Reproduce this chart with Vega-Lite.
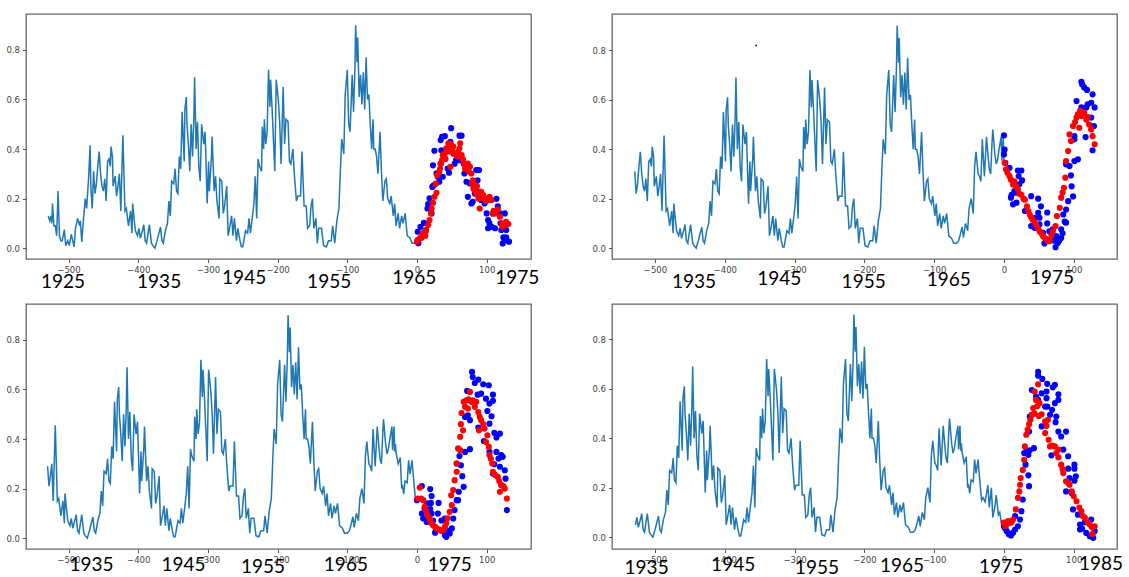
{
"$schema":"https://vega.github.io/schema/vega-lite/v6.json",
"background":"white",
"padding":{"left":5,"top":13,"right":0,"bottom":0},
"bounds":"flush",
"columns":2,
"spacing":{"row":45,"column":81},
"config":{"view":{"stroke":"#666666","strokeWidth":1.3},
"axis":{"grid":false,"domain":false,"title":null,"tickSize":3.5,"tickColor":"#555555","labelColor":"#444444","labelFont":"DejaVu Sans","labelFontSize":8.5,"labelPadding":3,"labelOverlap":false,"labelFlush":false},
"text":{"font":"Lato","fontSize":19,"color":"black"}},
"datasets":{
"series":[
{"a":-529,"y":0.13},{"a":-527,"y":0.11},{"a":-525,"y":0.13},{"a":-524,"y":0.1},{"a":-523,"y":0.18},{"a":-521,"y":0.09},{"a":-519,"y":0.09},{"a":-517,"y":0.05},{"a":-515,"y":0.23},{"a":-513,"y":0.05},{"a":-511,"y":0.03},{"a":-509,"y":0.03},{"a":-506,"y":0.075},{"a":-504,"y":0.01},{"a":-501,"y":0.03},{"a":-499,"y":0.01},{"a":-496,"y":0.055},{"a":-494,"y":0.03},{"a":-492,"y":0.005},{"a":-490,"y":0.08},{"a":-487,"y":0.12},{"a":-484,"y":0.09},{"a":-483,"y":0.11},{"a":-481,"y":0.025},{"a":-479,"y":0.1},{"a":-476,"y":0.2},{"a":-474,"y":0.16},{"a":-471,"y":0.29},{"a":-469,"y":0.415},{"a":-468,"y":0.25},{"a":-466,"y":0.16},
{"a":-464,"b":-529,"y":0.31},{"a":-462,"b":-527,"y":0.22},{"a":-460,"b":-525,"y":0.26},{"a":-458,"b":-523,"y":0.33},{"a":-456,"b":-521,"y":0.39},{"a":-454,"b":-519,"y":0.3},{"a":-452,"b":-517,"y":0.25},{"a":-450,"b":-515,"y":0.23},{"a":-448,"b":-513,"y":0.28},{"a":-446,"b":-511,"y":0.19},{"a":-444,"b":-509,"y":0.35},{"a":-442,"b":-507,"y":0.36},{"a":-440,"b":-505,"y":0.33},{"a":-439,"b":-504,"y":0.41},{"a":-437,"b":-502,"y":0.37},{"a":-436,"b":-501,"y":0.25},
{"a":-433,"b":-498,"c":-530,"y":0.29},{"a":-431,"b":-496,"c":-528,"y":0.21},{"a":-429,"b":-494,"c":-526,"y":0.25},{"a":-427,"b":-492,"c":-524,"y":0.3},{"a":-425,"b":-490,"c":-522,"y":0.15},{"a":-422,"b":-487,"c":-519,"y":0.455},{"a":-419,"b":-484,"c":-516,"y":0.15},{"a":-417,"b":-482,"c":-514,"y":0.16},{"a":-414,"b":-479,"c":-511,"y":0.09},{"a":-412,"b":-477,"c":-509,"y":0.13},{"a":-411,"b":-476,"c":-508,"y":0.15},{"a":-409,"b":-474,"c":-506,"y":0.06},{"a":-408,"b":-473,"c":-505,"y":0.18},{"a":-406,"b":-471,"c":-503,"y":0.12},{"a":-404,"b":-469,"c":-501,"y":0.07},
{"a":-401,"b":-466,"c":-498,"d":-528,"y":0.05},{"a":-399,"b":-464,"c":-496,"d":-526,"y":0.08},{"a":-397,"b":-462,"c":-494,"d":-524,"y":0.04},{"a":-394,"b":-459,"c":-491,"d":-521,"y":0.07},{"a":-392,"b":-457,"c":-489,"d":-519,"y":0.095},{"a":-390,"b":-455,"c":-487,"d":-517,"y":0.03},{"a":-388,"b":-453,"c":-485,"d":-515,"y":0.02},{"a":-384,"b":-449,"c":-481,"d":-511,"y":0.095},{"a":-381,"b":-446,"c":-478,"d":-508,"y":0.02},{"a":-379,"b":-444,"c":-476,"d":-506,"y":0.01},{"a":-376,"b":-441,"c":-473,"d":-503,"y":0.0},{"a":-373,"b":-438,"c":-470,"d":-500,"y":0.03},{"a":-368,"b":-433,"c":-465,"d":-495,"y":0.085},{"a":-366,"b":-431,"c":-463,"d":-493,"y":0.03},{"a":-364,"b":-429,"c":-461,"d":-491,"y":0.02},{"a":-361,"b":-426,"c":-458,"d":-488,"y":0.07},{"a":-358,"b":-423,"c":-455,"d":-485,"y":0.1},{"a":-356,"b":-421,"c":-453,"d":-483,"y":0.19},{"a":-354,"b":-419,"c":-451,"d":-481,"y":0.13},{"a":-352,"b":-417,"c":-449,"d":-479,"y":0.27},{"a":-349,"b":-414,"c":-446,"d":-476,"y":0.26},{"a":-347,"b":-412,"c":-444,"d":-474,"y":0.32},{"a":-345,"b":-410,"c":-442,"d":-472,"y":0.23},{"a":-343,"b":-408,"c":-440,"d":-470,"y":0.22},{"a":-341,"b":-406,"c":-438,"d":-468,"y":0.37},{"a":-339,"b":-404,"c":-436,"d":-466,"y":0.32},{"a":-337,"b":-402,"c":-434,"d":-464,"y":0.55},{"a":-334,"b":-399,"c":-431,"d":-461,"y":0.35},{"a":-333,"b":-398,"c":-430,"d":-460,"y":0.56},{"a":-331,"b":-396,"c":-428,"d":-458,"y":0.61},{"a":-330,"b":-395,"c":-427,"d":-457,"y":0.5},{"a":-328,"b":-393,"c":-425,"d":-455,"y":0.42},{"a":-326,"b":-391,"c":-423,"d":-453,"y":0.31},{"a":-324,"b":-389,"c":-421,"d":-451,"y":0.5},{"a":-322,"b":-387,"c":-419,"d":-449,"y":0.37},{"a":-320,"b":-385,"c":-417,"d":-447,"y":0.54},{"a":-319,"b":-384,"c":-416,"d":-446,"y":0.69},{"a":-317,"b":-382,"c":-414,"d":-444,"y":0.4},{"a":-315,"b":-380,"c":-412,"d":-442,"y":0.51},{"a":-313,"b":-378,"c":-410,"d":-440,"y":0.33},{"a":-311,"b":-376,"c":-408,"d":-438,"y":0.27},{"a":-309,"b":-374,"c":-406,"d":-436,"y":0.5},{"a":-306,"b":-371,"c":-403,"d":-433,"y":0.42},{"a":-304,"b":-369,"c":-401,"d":-431,"y":0.47},{"a":-301,"b":-366,"c":-398,"d":-428,"y":0.18},{"a":-299,"b":-364,"c":-396,"d":-426,"y":0.35},{"a":-298,"b":-363,"c":-395,"d":-425,"y":0.23},{"a":-295,"b":-360,"c":-392,"d":-422,"y":0.36},{"a":-294,"b":-359,"c":-391,"d":-421,"y":0.45},{"a":-291,"b":-356,"c":-388,"d":-418,"y":0.23},{"a":-289,"b":-354,"c":-386,"d":-416,"y":0.29},{"a":-287,"b":-352,"c":-384,"d":-414,"y":0.19},{"a":-284,"b":-349,"c":-381,"d":-411,"y":0.12},{"a":-283,"b":-348,"c":-380,"d":-410,"y":0.28},{"a":-280,"b":-345,"c":-377,"d":-407,"y":0.27},{"a":-278,"b":-343,"c":-375,"d":-405,"y":0.14},{"a":-276,"b":-341,"c":-373,"d":-403,"y":0.17},{"a":-273,"b":-338,"c":-370,"d":-400,"y":0.25},{"a":-271,"b":-336,"c":-368,"d":-398,"y":0.05},{"a":-269,"b":-334,"c":-366,"d":-396,"y":0.08},{"a":-266,"b":-331,"c":-363,"d":-393,"y":0.13},{"a":-264,"b":-329,"c":-361,"d":-391,"y":0.05},{"a":-262,"b":-327,"c":-359,"d":-389,"y":0.12},{"a":-259,"b":-324,"c":-356,"d":-386,"y":0.03},{"a":-257,"b":-322,"c":-354,"d":-384,"y":0.08},{"a":-254,"b":-319,"c":-351,"d":-381,"y":0.03},{"a":-252,"b":-317,"c":-349,"d":-379,"y":0.005},{"a":-250,"b":-315,"c":-347,"d":-377,"y":0.005},{"a":-246,"b":-311,"c":-343,"d":-373,"y":0.07},{"a":-243,"b":-308,"c":-340,"d":-370,"y":0.06},{"a":-241,"b":-306,"c":-338,"d":-368,"y":0.12},{"a":-239,"b":-304,"c":-336,"d":-366,"y":0.06},{"a":-236,"b":-301,"c":-333,"d":-363,"y":0.13},{"a":-234,"b":-299,"c":-331,"d":-361,"y":0.18},{"a":-232,"b":-297,"c":-329,"d":-359,"y":0.29},{"a":-230,"b":-295,"c":-327,"d":-357,"y":0.12},{"a":-228,"b":-293,"c":-325,"d":-355,"y":0.36},{"a":-226,"b":-291,"c":-323,"d":-353,"y":0.33},{"a":-223,"b":-288,"c":-320,"d":-350,"y":0.31},{"a":-222,"b":-287,"c":-319,"d":-349,"y":0.49},{"a":-220,"b":-285,"c":-317,"d":-347,"y":0.4},{"a":-219,"b":-284,"c":-316,"d":-346,"y":0.52},{"a":-217,"b":-282,"c":-314,"d":-344,"y":0.42},{"a":-215,"b":-280,"c":-312,"d":-342,"y":0.47},{"a":-213,"b":-278,"c":-310,"d":-340,"y":0.72},{"a":-211,"b":-276,"c":-308,"d":-338,"y":0.57},{"a":-210,"b":-275,"c":-307,"d":-337,"y":0.68},{"a":-208,"b":-273,"c":-305,"d":-335,"y":0.57},{"a":-204,"b":-269,"c":-301,"d":-331,"y":0.31},{"a":-202,"b":-267,"c":-299,"d":-329,"y":0.68},{"a":-199,"b":-264,"c":-296,"d":-326,"y":0.6},{"a":-197,"b":-262,"c":-294,"d":-324,"y":0.51},{"a":-195,"b":-260,"c":-292,"d":-322,"y":0.34},{"a":-192,"b":-257,"c":-289,"d":-319,"y":0.65},{"a":-190,"b":-255,"c":-287,"d":-317,"y":0.42},{"a":-188,"b":-253,"c":-285,"d":-315,"y":0.52},{"a":-185,"b":-250,"c":-282,"d":-312,"y":0.51},{"a":-183,"b":-248,"c":-280,"d":-310,"y":0.35},{"a":-181,"b":-246,"c":-278,"d":-308,"y":0.34},{"a":-178,"b":-243,"c":-275,"d":-305,"y":0.4},{"a":-176,"b":-241,"c":-273,"d":-303,"y":0.3},{"a":-173,"b":-238,"c":-270,"d":-300,"y":0.19},{"a":-171,"b":-236,"c":-268,"d":-298,"y":0.21},{"a":-167,"b":-232,"c":-264,"d":-294,"y":0.21},{"a":-165,"b":-230,"c":-262,"d":-292,"y":0.39},{"a":-162,"b":-227,"c":-259,"d":-289,"y":0.17},{"a":-159,"b":-224,"c":-256,"d":-286,"y":0.17},{"a":-157,"b":-222,"c":-254,"d":-284,"y":0.08},{"a":-154,"b":-219,"c":-251,"d":-281,"y":0.09},{"a":-152,"b":-217,"c":-249,"d":-279,"y":0.17},{"a":-150,"b":-215,"c":-247,"d":-277,"y":0.2},{"a":-148,"b":-213,"c":-245,"d":-275,"y":0.08},{"a":-145,"b":-210,"c":-242,"d":-272,"y":0.12},{"a":-143,"b":-208,"c":-240,"d":-270,"y":0.02},{"a":-141,"b":-206,"c":-238,"d":-268,"y":0.08},{"a":-137,"b":-202,"c":-234,"d":-264,"y":0.08},{"a":-134,"b":-199,"c":-231,"d":-261,"y":0.01},{"a":-130,"b":-195,"c":-227,"d":-257,"y":0.005},{"a":-127,"b":-192,"c":-224,"d":-254,"y":0.03},{"a":-123,"b":-188,"c":-220,"d":-250,"y":0.03},{"a":-121,"b":-186,"c":-218,"d":-248,"y":0.09},{"a":-118,"b":-183,"c":-215,"d":-245,"y":0.02},{"a":-115,"b":-180,"c":-212,"d":-242,"y":0.11},{"a":-112,"b":-177,"c":-209,"d":-239,"y":0.16},{"a":-110,"b":-175,"c":-207,"d":-237,"y":0.31},{"a":-108,"b":-173,"c":-205,"d":-235,"y":0.44},{"a":-105,"b":-170,"c":-202,"d":-232,"y":0.38},{"a":-103,"b":-168,"c":-200,"d":-230,"y":0.62},{"a":-100,"b":-165,"c":-197,"d":-227,"y":0.72},{"a":-98,"b":-163,"c":-195,"d":-225,"y":0.5},{"a":-96,"b":-161,"c":-193,"d":-223,"y":0.47},{"a":-93,"b":-158,"c":-190,"d":-220,"y":0.7},{"a":-91,"b":-156,"c":-188,"d":-218,"y":0.55},{"a":-89,"b":-154,"c":-186,"d":-216,"y":0.73},{"a":-88,"b":-153,"c":-185,"d":-215,"y":0.9},{"a":-86,"b":-151,"c":-183,"d":-213,"y":0.75},{"a":-85,"b":-150,"c":-182,"d":-212,"y":0.85},{"a":-83,"b":-148,"c":-180,"d":-210,"y":0.61},{"a":-81,"b":-146,"c":-178,"d":-208,"y":0.7},{"a":-79,"b":-144,"c":-176,"d":-206,"y":0.58},{"a":-77,"b":-142,"c":-174,"d":-204,"y":0.71},{"a":-75,"b":-140,"c":-172,"d":-202,"y":0.56},{"a":-73,"b":-138,"c":-170,"d":-200,"y":0.77},{"a":-71,"b":-136,"c":-168,"d":-198,"y":0.6},{"a":-69,"b":-134,"c":-166,"d":-196,"y":0.62},{"a":-67,"b":-132,"c":-164,"d":-194,"y":0.5},{"a":-65,"b":-130,"c":-162,"d":-192,"y":0.4},{"a":-63,"b":-128,"c":-160,"d":-190,"y":0.52},{"a":-62,"b":-127,"c":-159,"d":-189,"y":0.4},{"a":-60,"b":-125,"c":-157,"d":-187,"y":0.4},{"a":-58,"b":-123,"c":-155,"d":-185,"y":0.37},{"a":-56,"b":-121,"c":-153,"d":-183,"y":0.3},{"a":-53,"b":-118,"c":-150,"d":-180,"y":0.47},{"a":-51,"b":-116,"c":-148,"d":-178,"y":0.31},{"a":-49,"b":-114,"c":-146,"d":-176,"y":0.19},{"a":-46,"b":-111,"c":-143,"d":-173,"y":0.27},{"a":-44,"b":-109,"c":-141,"d":-171,"y":0.28},{"a":-42,"b":-107,"c":-139,"d":-169,"y":0.2},{"a":-39,"b":-104,"c":-136,"d":-166,"y":0.18},{"a":-37,"b":-102,"c":-134,"d":-164,"y":0.21},{"a":-34,"b":-99,"c":-131,"d":-161,"y":0.13},{"a":-32,"b":-97,"c":-129,"d":-159,"y":0.18},{"a":-30,"b":-95,"c":-127,"d":-157,"y":0.09},{"a":-27,"b":-92,"c":-124,"d":-154,"y":0.14},{"a":-25,"b":-90,"c":-122,"d":-152,"y":0.08},{"a":-22,"b":-87,"c":-119,"d":-149,"y":0.13},{"a":-20,"b":-85,"c":-117,"d":-147,"y":0.1},{"a":-17,"b":-82,"c":-114,"d":-144,"y":0.14},{"a":-14,"b":-79,"c":-111,"d":-141,"y":0.05},{"a":-10,"b":-75,"c":-107,"d":-137,"y":0.04},{"a":-7,"b":-72,"c":-104,"d":-134,"y":0.02},{"a":-3,"b":-68,"c":-100,"d":-130,"y":0.02},{"a":0,"b":-65,"c":-97,"d":-127,"y":0.03},
{"b":-63,"c":-95,"d":-125,"y":0.05},{"b":-60,"c":-92,"d":-122,"y":0.086},{"b":-58,"c":-90,"d":-120,"y":0.043},{"b":-55,"c":-87,"d":-117,"y":0.1},{"b":-52,"c":-84,"d":-114,"y":0.07},{"b":-50,"c":-82,"d":-112,"y":0.16},{"b":-47,"c":-79,"d":-109,"y":0.2},{"b":-44,"c":-76,"d":-106,"y":0.14},{"b":-42,"c":-74,"d":-104,"y":0.33},{"b":-40,"c":-72,"d":-102,"y":0.39},{"b":-37,"c":-69,"d":-99,"y":0.3},{"b":-35,"c":-67,"d":-97,"y":0.29},{"b":-33,"c":-65,"d":-95,"y":0.27},{"b":-31,"c":-63,"d":-93,"y":0.44},{"b":-29,"c":-61,"d":-91,"y":0.34},{"b":-28,"c":-60,"d":-90,"y":0.29},{"b":-25,"c":-57,"d":-87,"y":0.45},{"b":-23,"c":-55,"d":-85,"y":0.38},{"b":-21,"c":-53,"d":-83,"y":0.32},{"b":-19,"c":-51,"d":-81,"y":0.3},{"b":-17,"c":-49,"d":-79,"y":0.43},{"b":-16,"c":-48,"d":-78,"y":0.48},{"b":-13,"c":-45,"d":-75,"y":0.38},{"b":-11,"c":-43,"d":-73,"y":0.34},{"b":-9,"c":-41,"d":-71,"y":0.36},{"b":-7,"c":-39,"d":-69,"y":0.4},{"b":-4,"c":-36,"d":-66,"y":0.45},{"b":-3,"c":-35,"d":-65,"y":0.355},{"b":-1,"c":-33,"d":-63,"y":0.45},{"b":0,"c":-32,"d":-62,"y":0.35},
{"c":-31,"d":-61,"y":0.38},{"c":-30,"d":-60,"y":0.345},{"c":-27,"d":-57,"y":0.3},{"c":-24,"d":-54,"y":0.325},{"c":-22,"d":-52,"y":0.2},{"c":-21,"d":-51,"y":0.216},{"c":-19,"d":-49,"y":0.177},{"c":-17,"d":-47,"y":0.231},{"c":-14,"d":-44,"y":0.224},{"c":-12,"d":-42,"y":0.314},{"c":-10,"d":-40,"y":0.258},{"c":-7,"d":-37,"y":0.314},{"c":-6,"d":-36,"y":0.274},{"c":-2,"d":-32,"y":0.15},{"c":0,"d":-30,"y":0.16},
{"d":-27,"y":0.143},{"d":-23,"y":0.21},{"d":-21,"y":0.12},{"d":-18,"y":0.2},{"d":-16,"y":0.08},{"d":-13,"y":0.123},{"d":-11,"y":0.17},{"d":-8,"y":0.09},{"d":-6,"y":0.1},{"d":-4,"y":0.06},{"d":-2,"y":0.03},{"d":0,"y":0.06}
],
"blue1":[{"x":1,"y":0.066},{"x":1,"y":0.03},{"x":2,"y":0.02},{"x":5,"y":0.086},{"x":7,"y":0.043},{"x":10,"y":0.102},{"x":11,"y":0.066},{"x":13,"y":0.073},{"x":15,"y":0.16},{"x":16,"y":0.178},{"x":18,"y":0.201},{"x":21,"y":0.14},{"x":22,"y":0.247},{"x":24,"y":0.253},{"x":25,"y":0.393},{"x":23,"y":0.334},{"x":28,"y":0.302},{"x":30,"y":0.288},{"x":32,"y":0.268},{"x":34,"y":0.341},{"x":35,"y":0.395},{"x":34,"y":0.436},{"x":36,"y":0.449},{"x":40,"y":0.452},{"x":37,"y":0.288},{"x":40,"y":0.387},{"x":44,"y":0.321},{"x":46,"y":0.304},{"x":49,"y":0.484},{"x":48,"y":0.429},{"x":52,"y":0.382},{"x":54,"y":0.341},{"x":56,"y":0.355},{"x":61,"y":0.454},{"x":64,"y":0.454},{"x":61,"y":0.355},{"x":67,"y":0.341},{"x":68,"y":0.301},{"x":71,"y":0.268},{"x":73,"y":0.207},{"x":76,"y":0.261},{"x":78,"y":0.18},{"x":80,"y":0.187},{"x":83,"y":0.22},{"x":85,"y":0.315},{"x":89,"y":0.315},{"x":87,"y":0.274},{"x":90,"y":0.227},{"x":92,"y":0.194},{"x":97,"y":0.18},{"x":100,"y":0.14},{"x":102,"y":0.113},{"x":104,"y":0.1},{"x":102,"y":0.08},{"x":107,"y":0.086},{"x":109,"y":0.14},{"x":114,"y":0.199},{"x":116,"y":0.169},{"x":119,"y":0.14},{"x":120,"y":0.1},{"x":121,"y":0.073},{"x":124,"y":0.043},{"x":126,"y":0.14},{"x":128,"y":0.073},{"x":126,"y":0.032},{"x":128,"y":0.043},{"x":132,"y":0.026},{"x":123,"y":0.019},{"x":112,"y":0.08}],
"red1":[{"x":0,"y":0.026},{"x":1,"y":0.032},{"x":4,"y":0.039},{"x":6,"y":0.043},{"x":9,"y":0.052},{"x":11,"y":0.059},{"x":13,"y":0.07},{"x":16,"y":0.093},{"x":18,"y":0.113},{"x":20,"y":0.14},{"x":21,"y":0.16},{"x":23,"y":0.183},{"x":25,"y":0.207},{"x":28,"y":0.223},{"x":29,"y":0.294},{"x":32,"y":0.308},{"x":34,"y":0.341},{"x":36,"y":0.355},{"x":37,"y":0.375},{"x":40,"y":0.382},{"x":42,"y":0.403},{"x":45,"y":0.423},{"x":47,"y":0.42},{"x":49,"y":0.417},{"x":52,"y":0.41},{"x":54,"y":0.38},{"x":56,"y":0.382},{"x":59,"y":0.389},{"x":61,"y":0.403},{"x":62,"y":0.423},{"x":64,"y":0.375},{"x":66,"y":0.358},{"x":68,"y":0.341},{"x":71,"y":0.335},{"x":73,"y":0.341},{"x":76,"y":0.328},{"x":78,"y":0.301},{"x":80,"y":0.274},{"x":83,"y":0.254},{"x":85,"y":0.247},{"x":87,"y":0.22},{"x":90,"y":0.207},{"x":92,"y":0.227},{"x":95,"y":0.214},{"x":97,"y":0.2},{"x":100,"y":0.196},{"x":102,"y":0.194},{"x":104,"y":0.207},{"x":107,"y":0.194},{"x":109,"y":0.14},{"x":112,"y":0.14},{"x":114,"y":0.151},{"x":116,"y":0.156},{"x":119,"y":0.127},{"x":123,"y":0.086},{"x":126,"y":0.093},{"x":128,"y":0.106},{"x":131,"y":0.097},{"x":90,"y":0.16},{"x":48,"y":0.328},{"x":8,"y":0.06},{"x":12,"y":0.05},{"x":27,"y":0.26},{"x":33,"y":0.32},{"x":41,"y":0.36},{"x":44,"y":0.4},{"x":46,"y":0.39},{"x":51,"y":0.39},{"x":58,"y":0.37},{"x":69,"y":0.32},{"x":74,"y":0.31},{"x":79,"y":0.26},{"x":81,"y":0.24},{"x":84,"y":0.225},{"x":86,"y":0.25},{"x":88,"y":0.2},{"x":93,"y":0.205},{"x":99,"y":0.19},{"x":110,"y":0.15},{"x":122,"y":0.1}],
"blue2":[{"x":0,"y":0.456},{"x":1,"y":0.399},{"x":0,"y":0.379},{"x":2,"y":0.345},{"x":8,"y":0.325},{"x":20,"y":0.314},{"x":25,"y":0.314},{"x":21,"y":0.291},{"x":26,"y":0.274},{"x":22,"y":0.258},{"x":15,"y":0.231},{"x":11,"y":0.216},{"x":18,"y":0.224},{"x":10,"y":0.204},{"x":13,"y":0.177},{"x":18,"y":0.184},{"x":39,"y":0.21},{"x":49,"y":0.2},{"x":53,"y":0.169},{"x":30,"y":0.15},{"x":49,"y":0.143},{"x":44,"y":0.123},{"x":51,"y":0.123},{"x":62,"y":0.144},{"x":51,"y":0.096},{"x":62,"y":0.1},{"x":39,"y":0.089},{"x":44,"y":0.082},{"x":56,"y":0.062},{"x":58,"y":0.019},{"x":65,"y":0.068},{"x":70,"y":0.076},{"x":75,"y":0.049},{"x":82,"y":0.076},{"x":87,"y":0.107},{"x":89,"y":0.103},{"x":85,"y":0.136},{"x":89,"y":0.156},{"x":92,"y":0.19},{"x":99,"y":0.209},{"x":97,"y":0.25},{"x":96,"y":0.294},{"x":89,"y":0.339},{"x":94,"y":0.332},{"x":101,"y":0.352},{"x":106,"y":0.359},{"x":101,"y":0.44},{"x":101,"y":0.453},{"x":117,"y":0.449},{"x":127,"y":0.396},{"x":129,"y":0.494},{"x":125,"y":0.528},{"x":130,"y":0.569},{"x":120,"y":0.582},{"x":125,"y":0.588},{"x":118,"y":0.569},{"x":111,"y":0.569},{"x":104,"y":0.595},{"x":127,"y":0.622},{"x":119,"y":0.64},{"x":115,"y":0.65},{"x":112,"y":0.663},{"x":111,"y":0.673},{"x":74,"y":0.004},{"x":77,"y":0.021},{"x":82,"y":0.041},{"x":79,"y":0.03},{"x":72,"y":0.03},{"x":84,"y":0.06}],
"red2":[{"x":1,"y":0.345},{"x":3,"y":0.319},{"x":5,"y":0.305},{"x":8,"y":0.291},{"x":10,"y":0.277},{"x":13,"y":0.257},{"x":15,"y":0.27},{"x":18,"y":0.25},{"x":20,"y":0.236},{"x":22,"y":0.22},{"x":25,"y":0.216},{"x":28,"y":0.2},{"x":30,"y":0.196},{"x":33,"y":0.169},{"x":35,"y":0.15},{"x":37,"y":0.135},{"x":39,"y":0.125},{"x":41,"y":0.115},{"x":44,"y":0.105},{"x":46,"y":0.095},{"x":49,"y":0.08},{"x":51,"y":0.068},{"x":54,"y":0.058},{"x":56,"y":0.048},{"x":59,"y":0.04},{"x":61,"y":0.035},{"x":63,"y":0.03},{"x":65,"y":0.028},{"x":68,"y":0.05},{"x":70,"y":0.068},{"x":74,"y":0.089},{"x":76,"y":0.13},{"x":80,"y":0.163},{"x":82,"y":0.204},{"x":84,"y":0.225},{"x":86,"y":0.244},{"x":88,"y":0.285},{"x":89,"y":0.352},{"x":92,"y":0.393},{"x":96,"y":0.433},{"x":94,"y":0.46},{"x":99,"y":0.494},{"x":102,"y":0.51},{"x":104,"y":0.528},{"x":106,"y":0.541},{"x":109,"y":0.555},{"x":111,"y":0.534},{"x":113,"y":0.55},{"x":115,"y":0.547},{"x":118,"y":0.52},{"x":120,"y":0.53},{"x":122,"y":0.5},{"x":125,"y":0.48},{"x":127,"y":0.453},{"x":130,"y":0.42},{"x":108,"y":0.487}],
"blue3":[{"x":0,"y":0.153},{"x":7,"y":0.21},{"x":19,"y":0.198},{"x":21,"y":0.17},{"x":14,"y":0.14},{"x":20,"y":0.142},{"x":19,"y":0.117},{"x":31,"y":0.142},{"x":7,"y":0.099},{"x":9,"y":0.079},{"x":21,"y":0.099},{"x":30,"y":0.099},{"x":14,"y":0.065},{"x":23,"y":0.071},{"x":35,"y":0.071},{"x":40,"y":0.079},{"x":52,"y":0.079},{"x":54,"y":0.113},{"x":57,"y":0.153},{"x":59,"y":0.153},{"x":67,"y":0.207},{"x":60,"y":0.187},{"x":65,"y":0.25},{"x":63,"y":0.294},{"x":57,"y":0.301},{"x":76,"y":0.359},{"x":69,"y":0.348},{"x":61,"y":0.331},{"x":104,"y":0.348},{"x":114,"y":0.348},{"x":121,"y":0.335},{"x":123,"y":0.328},{"x":117,"y":0.321},{"x":111,"y":0.298},{"x":119,"y":0.288},{"x":126,"y":0.274},{"x":109,"y":0.261},{"x":127,"y":0.24},{"x":121,"y":0.214},{"x":129,"y":0.113},{"x":104,"y":0.462},{"x":96,"y":0.392},{"x":111,"y":0.425},{"x":119,"y":0.422},{"x":114,"y":0.406},{"x":107,"y":0.492},{"x":101,"y":0.513},{"x":88,"y":0.446},{"x":76,"y":0.476},{"x":69,"y":0.489},{"x":73,"y":0.496},{"x":104,"y":0.543},{"x":109,"y":0.554},{"x":109,"y":0.579},{"x":103,"y":0.617},{"x":95,"y":0.621},{"x":88,"y":0.64},{"x":83,"y":0.626},{"x":80,"y":0.65},{"x":79,"y":0.671},{"x":72,"y":0.594},{"x":92,"y":0.583},{"x":87,"y":0.579},{"x":99,"y":0.563},{"x":26,"y":0.022},{"x":40,"y":0.012},{"x":42,"y":0.005},{"x":47,"y":0.019},{"x":50,"y":0.039},{"x":36,"y":0.03},{"x":44,"y":0.03},{"x":11,"y":0.12},{"x":17,"y":0.09}],
"red3":[{"x":1,"y":0.16},{"x":4,"y":0.204},{"x":6,"y":0.16},{"x":9,"y":0.153},{"x":11,"y":0.126},{"x":13,"y":0.11},{"x":15,"y":0.093},{"x":17,"y":0.085},{"x":19,"y":0.073},{"x":21,"y":0.06},{"x":23,"y":0.052},{"x":26,"y":0.045},{"x":28,"y":0.039},{"x":31,"y":0.035},{"x":33,"y":0.032},{"x":36,"y":0.03},{"x":38,"y":0.032},{"x":40,"y":0.045},{"x":42,"y":0.059},{"x":44,"y":0.08},{"x":47,"y":0.106},{"x":50,"y":0.133},{"x":49,"y":0.173},{"x":52,"y":0.194},{"x":54,"y":0.234},{"x":57,"y":0.268},{"x":57,"y":0.301},{"x":59,"y":0.362},{"x":62,"y":0.355},{"x":62,"y":0.409},{"x":63,"y":0.46},{"x":66,"y":0.435},{"x":64,"y":0.505},{"x":67,"y":0.55},{"x":69,"y":0.53},{"x":71,"y":0.556},{"x":74,"y":0.56},{"x":76,"y":0.59},{"x":78,"y":0.55},{"x":80,"y":0.556},{"x":83,"y":0.53},{"x":85,"y":0.55},{"x":88,"y":0.509},{"x":90,"y":0.49},{"x":92,"y":0.476},{"x":95,"y":0.46},{"x":97,"y":0.442},{"x":101,"y":0.415},{"x":99,"y":0.388},{"x":103,"y":0.368},{"x":104,"y":0.335},{"x":106,"y":0.32},{"x":108,"y":0.301},{"x":109,"y":0.267},{"x":112,"y":0.255},{"x":116,"y":0.247},{"x":118,"y":0.23},{"x":121,"y":0.214},{"x":124,"y":0.21},{"x":126,"y":0.2},{"x":129,"y":0.16},{"x":119,"y":0.187},{"x":89,"y":0.435},{"x":73,"y":0.523}],
"blue4":[{"x":0,"y":0.044},{"x":4,"y":0.024},{"x":10,"y":0.007},{"x":16,"y":0.031},{"x":20,"y":0.044},{"x":23,"y":0.071},{"x":16,"y":0.085},{"x":25,"y":0.105},{"x":27,"y":0.152},{"x":36,"y":0.206},{"x":35,"y":0.25},{"x":31,"y":0.293},{"x":35,"y":0.333},{"x":29,"y":0.34},{"x":43,"y":0.36},{"x":37,"y":0.351},{"x":32,"y":0.347},{"x":36,"y":0.427},{"x":40,"y":0.595},{"x":46,"y":0.569},{"x":54,"y":0.582},{"x":61,"y":0.589},{"x":49,"y":0.555},{"x":61,"y":0.562},{"x":59,"y":0.528},{"x":78,"y":0.555},{"x":73,"y":0.542},{"x":62,"y":0.528},{"x":69,"y":0.515},{"x":75,"y":0.488},{"x":66,"y":0.495},{"x":74,"y":0.465},{"x":54,"y":0.448},{"x":40,"y":0.495},{"x":37,"y":0.488},{"x":78,"y":0.427},{"x":89,"y":0.427},{"x":82,"y":0.407},{"x":68,"y":0.331},{"x":85,"y":0.354},{"x":92,"y":0.327},{"x":101,"y":0.293},{"x":101,"y":0.277},{"x":92,"y":0.277},{"x":103,"y":0.246},{"x":101,"y":0.228},{"x":94,"y":0.239},{"x":89,"y":0.185},{"x":97,"y":0.179},{"x":99,"y":0.112},{"x":106,"y":0.091},{"x":109,"y":0.051},{"x":109,"y":0.031},{"x":118,"y":0.017},{"x":125,"y":0.071},{"x":130,"y":0.024},{"x":128,"y":-0.003},{"x":123,"y":0.004},{"x":49,"y":0.669},{"x":49,"y":0.653},{"x":55,"y":0.64},{"x":62,"y":0.62},{"x":73,"y":0.616},{"x":70,"y":0.606},{"x":78,"y":0.578},{"x":7,"y":0.012},{"x":13,"y":0.018},{"x":2,"y":0.035},{"x":112,"y":0.035},{"x":116,"y":0.06}],
"red4":[{"x":0,"y":0.059},{"x":2,"y":0.045},{"x":4,"y":0.051},{"x":6,"y":0.065},{"x":9,"y":0.059},{"x":11,"y":0.06},{"x":13,"y":0.071},{"x":17,"y":0.112},{"x":20,"y":0.159},{"x":22,"y":0.185},{"x":23,"y":0.212},{"x":24,"y":0.239},{"x":27,"y":0.272},{"x":29,"y":0.313},{"x":30,"y":0.367},{"x":32,"y":0.414},{"x":34,"y":0.435},{"x":36,"y":0.457},{"x":38,"y":0.475},{"x":40,"y":0.495},{"x":42,"y":0.522},{"x":46,"y":0.555},{"x":48,"y":0.53},{"x":51,"y":0.542},{"x":49,"y":0.618},{"x":44,"y":0.589},{"x":44,"y":0.5},{"x":50,"y":0.49},{"x":54,"y":0.497},{"x":59,"y":0.468},{"x":61,"y":0.45},{"x":63,"y":0.474},{"x":59,"y":0.421},{"x":64,"y":0.394},{"x":66,"y":0.367},{"x":69,"y":0.37},{"x":73,"y":0.367},{"x":75,"y":0.34},{"x":78,"y":0.354},{"x":78,"y":0.323},{"x":82,"y":0.293},{"x":84,"y":0.275},{"x":85,"y":0.259},{"x":89,"y":0.226},{"x":92,"y":0.22},{"x":94,"y":0.212},{"x":97,"y":0.185},{"x":100,"y":0.165},{"x":104,"y":0.145},{"x":108,"y":0.12},{"x":111,"y":0.105},{"x":113,"y":0.085},{"x":116,"y":0.078},{"x":120,"y":0.06},{"x":123,"y":0.051},{"x":126,"y":0.04},{"x":130,"y":0.044},{"x":127,"y":0.013}]
},
"concat":[
{"width":505,"height":245,
"encoding":{"x":{"type":"quantitative","scale":{"domain":[-561,163.6],"nice":false,"zero":false},"axis":{"values":[-500,-400,-300,-200,-100,0,100]}},"y":{"type":"quantitative","scale":{"domain":[-0.044,0.945],"nice":false,"zero":false},"axis":{"values":[0,0.2,0.4,0.6,0.8]}}},
"layer":[
{"data":{"name":"series"},"transform":[{"filter":{"field":"a","range":[-530,0]}}],"mark":{"type":"line","color":"#1f77b4","strokeWidth":1.5},"encoding":{"x":{"field":"a"},"y":{"field":"y"}}},
{"data":{"name":"blue1"},"mark":{"type":"circle","color":"#0000ff","size":38,"opacity":1},"encoding":{"x":{"field":"x"},"y":{"field":"y"}}},
{"data":{"name":"red1"},"mark":{"type":"circle","color":"#ff0000","size":38,"opacity":1},"encoding":{"x":{"field":"x"},"y":{"field":"y"}}},
{"data":{"values":[{"x":-508,"y":-0.137,"t":"1925"},{"x":-370,"y":-0.137,"t":"1935"},{"x":-248,"y":-0.12,"t":"1945"},{"x":-126,"y":-0.137,"t":"1955"},{"x":-4,"y":-0.12,"t":"1965"},{"x":144,"y":-0.12,"t":"1975"}]},"mark":{"type":"text"},"encoding":{"x":{"field":"x"},"y":{"field":"y"},"text":{"field":"t"}}}
]},
{"width":505,"height":245,
"encoding":{"x":{"type":"quantitative","scale":{"domain":[-561.6,162],"nice":false,"zero":false},"axis":{"values":[-500,-400,-300,-200,-100,0,100]}},"y":{"type":"quantitative","scale":{"domain":[-0.044,0.947],"nice":false,"zero":false},"axis":{"values":[0,0.2,0.4,0.6,0.8]}}},
"layer":[
{"data":{"name":"series"},"transform":[{"filter":{"field":"b","range":[-530,0]}}],"mark":{"type":"line","color":"#1f77b4","strokeWidth":1.5},"encoding":{"x":{"field":"b"},"y":{"field":"y"}}},
{"data":{"name":"blue2"},"mark":{"type":"circle","color":"#0000ff","size":38,"opacity":1},"encoding":{"x":{"field":"x"},"y":{"field":"y"}}},
{"data":{"name":"red2"},"mark":{"type":"circle","color":"#ff0000","size":38,"opacity":1},"encoding":{"x":{"field":"x"},"y":{"field":"y"}}},
{"data":{"values":[{"x":-355,"y":0.82}]},"mark":{"type":"circle","color":"black","size":3,"opacity":1},"encoding":{"x":{"field":"x"},"y":{"field":"y"}}},
{"data":{"values":[{"x":-444,"y":-0.137,"t":"1935"},{"x":-322,"y":-0.125,"t":"1945"},{"x":-201,"y":-0.137,"t":"1955"},{"x":-79,"y":-0.129,"t":"1965"},{"x":69,"y":-0.121,"t":"1975"}]},"mark":{"type":"text"},"encoding":{"x":{"field":"x"},"y":{"field":"y"},"text":{"field":"t"}}}
]},
{"width":505,"height":245,
"encoding":{"x":{"type":"quantitative","scale":{"domain":[-561,163.6],"nice":false,"zero":false},"axis":{"values":[-500,-400,-300,-200,-100,0,100]}},"y":{"type":"quantitative","scale":{"domain":[-0.044,0.945],"nice":false,"zero":false},"axis":{"values":[0,0.2,0.4,0.6,0.8]}}},
"layer":[
{"data":{"name":"series"},"transform":[{"filter":{"field":"c","range":[-530,0]}}],"mark":{"type":"line","color":"#1f77b4","strokeWidth":1.5},"encoding":{"x":{"field":"c"},"y":{"field":"y"}}},
{"data":{"name":"blue3"},"mark":{"type":"circle","color":"#0000ff","size":38,"opacity":1},"encoding":{"x":{"field":"x"},"y":{"field":"y"}}},
{"data":{"name":"red3"},"mark":{"type":"circle","color":"#ff0000","size":38,"opacity":1},"encoding":{"x":{"field":"x"},"y":{"field":"y"}}},
{"data":{"values":[{"x":-467,"y":-0.109,"t":"1935"},{"x":-335,"y":-0.109,"t":"1945"},{"x":-221,"y":-0.117,"t":"1955"},{"x":-102,"y":-0.109,"t":"1965"},{"x":47,"y":-0.109,"t":"1975"}]},"mark":{"type":"text"},"encoding":{"x":{"field":"x"},"y":{"field":"y"},"text":{"field":"t"}}}
]},
{"width":505,"height":245,
"encoding":{"x":{"type":"quantitative","scale":{"domain":[-561.6,162],"nice":false,"zero":false},"axis":{"values":[-500,-400,-300,-200,-100,0,100]}},"y":{"type":"quantitative","scale":{"domain":[-0.048,0.943],"nice":false,"zero":false},"axis":{"values":[0,0.2,0.4,0.6,0.8]}}},
"layer":[
{"data":{"name":"series"},"transform":[{"filter":{"field":"d","range":[-530,0]}}],"mark":{"type":"line","color":"#1f77b4","strokeWidth":1.5},"encoding":{"x":{"field":"d"},"y":{"field":"y"}}},
{"data":{"name":"blue4"},"mark":{"type":"circle","color":"#0000ff","size":38,"opacity":1},"encoding":{"x":{"field":"x"},"y":{"field":"y"}}},
{"data":{"name":"red4"},"mark":{"type":"circle","color":"#ff0000","size":38,"opacity":1},"encoding":{"x":{"field":"x"},"y":{"field":"y"}}},
{"data":{"values":[{"x":-512,"y":-0.125,"t":"1935"},{"x":-388,"y":-0.113,"t":"1945"},{"x":-268,"y":-0.125,"t":"1955"},{"x":-146,"y":-0.117,"t":"1965"},{"x":-4,"y":-0.121,"t":"1975"},{"x":139,"y":-0.109,"t":"1985"}]},"mark":{"type":"text"},"encoding":{"x":{"field":"x"},"y":{"field":"y"},"text":{"field":"t"}}}
]}
]
}
